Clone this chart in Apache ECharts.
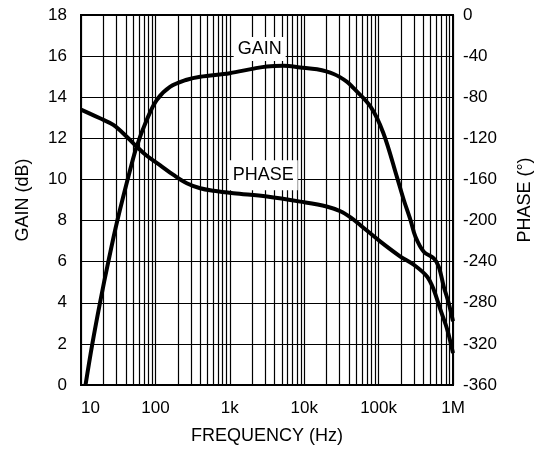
<!DOCTYPE html>
<html>
<head>
<meta charset="utf-8">
<script src="https://cdn.jsdelivr.net/npm/echarts@6/dist/echarts.min.js"></script>
<style>
  html, body { margin: 0; padding: 0; background: #fff; }
  #chart { width: 545px; height: 450px; }
</style>
</head>
<body>
<div id="chart"></div>
<script>
// Closed-loop response: gain (dB) and phase (degrees) versus frequency (Hz)
const gainFreq  = [11.5, 14.2, 18, 23.3, 30.8, 45.7, 56, 76.6, 104, 157, 264, 400, 1000, 2000, 3160, 5280, 8870, 14900, 24900, 37700, 45800, 77600, 116000, 177000, 218000, 268000, 313000, 405000, 552000, 644000, 752000, 878000, 1000000];
const gainDb    = [0, 2, 4, 6, 8, 10.46, 11.6, 12.9, 13.86, 14.5, 14.85, 15.0, 15.17, 15.38, 15.5, 15.53, 15.45, 15.36, 15.13, 14.75, 14.45, 13.55, 12.25, 10.1, 9.0, 8.03, 7.21, 6.48, 6.16, 5.75, 4.78, 3.97, 3.1];

const phaseFreq = [10, 18, 27.2, 41.2, 56, 76.6, 115, 175, 264, 400, 605, 1120, 3160, 8870, 20000, 30600, 42000, 56900, 105700, 196000, 297000, 450000, 552000, 679000, 836000, 1000000];
const phaseDeg  = [-92, -100.5, -107, -118.4, -128, -137, -146, -155.6, -163.7, -168.6, -171, -173.4, -176.7, -181.6, -186.3, -191, -197, -204.5, -220.5, -235, -243, -254.6, -267.5, -287, -306, -329];

const decadeLabels = { 10: '10', 100: '100', 1000: '1k', 10000: '10k', 100000: '100k', 1000000: '1M' };
const decades = [10, 100, 1000, 10000, 100000];

// 2x..9x grid lines inside every decade
const minorFreqs = [];
decades.forEach(d => { for (let k = 2; k <= 9; k++) minorFreqs.push(d * k); });

const font = 'Liberation Sans, Arial, Helvetica, sans-serif';
const ink = '#000';
const tickSize = 17;
const nameSize = 18;

const chart = echarts.init(document.getElementById('chart'), null, { renderer: 'canvas' });

chart.setOption({
  backgroundColor: '#fff',
  animation: false,
  textStyle: { fontFamily: font, color: ink },
  grid: { left: 81, right: 92, top: 15, bottom: 65, show: true, borderColor: ink, borderWidth: 2, backgroundColor: 'transparent' },
  xAxis: {
    type: 'log', logBase: 10, min: 10, max: 1000000,
    name: 'FREQUENCY (Hz)', nameLocation: 'middle', nameGap: 42,
    nameTextStyle: { fontSize: nameSize, color: ink, fontFamily: font },
    axisLine: { show: false }, axisTick: { show: false },
    axisLabel: { fontSize: tickSize, color: ink, fontFamily: font, margin: 15, alignMinLabel: 'left',
      formatter: v => decadeLabels[Math.round(v)] || '' },
    splitLine: { show: true, lineStyle: { color: ink, width: 1.2 } }
  },
  yAxis: [
    {
      type: 'value', min: 0, max: 18, interval: 2,
      name: 'GAIN (dB)', nameLocation: 'middle', nameGap: 49, nameRotate: 90,
      nameTextStyle: { fontSize: nameSize, color: ink, fontFamily: font },
      axisLine: { show: false }, axisTick: { show: false },
      axisLabel: { fontSize: tickSize, color: ink, fontFamily: font, margin: 14 },
      splitLine: { show: true, lineStyle: { color: ink, width: 1.2 } }
    },
    {
      type: 'value', min: -360, max: 0, interval: 40, position: 'right',
      name: 'PHASE (°)', nameLocation: 'middle', nameGap: 63, nameRotate: 90,
      nameTextStyle: { fontSize: nameSize, color: ink, fontFamily: font },
      axisLine: { show: false }, axisTick: { show: false },
      axisLabel: { fontSize: tickSize, color: ink, fontFamily: font, margin: 10 },
      splitLine: { show: false }
    }
  ],
  series: [
    {
      name: 'minorGrid', type: 'line', data: [], silent: true, z: 1,
      markLine: {
        silent: true, symbol: ['none', 'none'], z: 1, animation: false,
        label: { show: false },
        lineStyle: { color: ink, width: 1.2, type: 'solid' },
        emphasis: { disabled: true },
        data: minorFreqs.map(f => ({ xAxis: f }))
      }
    },
    {
      name: 'GAIN', type: 'line', yAxisIndex: 0, smooth: 0.35, showSymbol: false, z: 3,
      lineStyle: { color: ink, width: 4 },
      data: gainFreq.map((f, i) => [f, gainDb[i]]),
      markPoint: {
        z: 10, symbol: 'rect', symbolSize: 0, silent: true, animation: false,
        label: { show: true, position: 'inside', formatter: 'GAIN', color: ink, fontSize: nameSize, fontFamily: font,
          backgroundColor: '#fff', padding: [3, 4] },
        data: [{ coord: [2520, 16.34] }]
      }
    },
    {
      name: 'PHASE', type: 'line', yAxisIndex: 1, smooth: 0.35, showSymbol: false, z: 3,
      lineStyle: { color: ink, width: 4 },
      data: phaseFreq.map((f, i) => [f, phaseDeg[i]]),
      markPoint: {
        z: 10, symbol: 'rect', symbolSize: 0, silent: true, animation: false,
        label: { show: true, position: 'inside', formatter: 'PHASE', color: ink, fontSize: nameSize, fontFamily: font,
          backgroundColor: '#fff', padding: [6, 4] },
        data: [{ coord: [2810, -156] }]
      }
    }
  ]
});
</script>
</body>
</html>
